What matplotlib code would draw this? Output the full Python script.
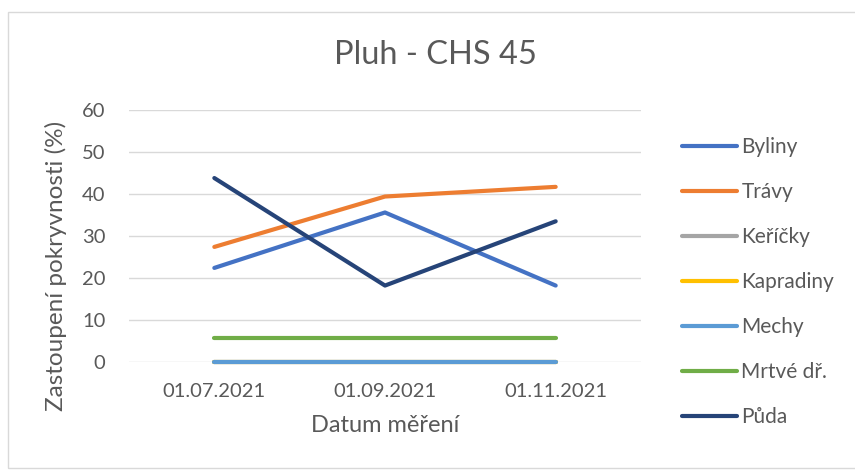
import matplotlib
matplotlib.use("Agg")
import matplotlib.pyplot as plt
from matplotlib.patches import Rectangle

dates = ["01.07.2021", "01.09.2021", "01.11.2021"]
byliny = [22.4, 35.6, 18.2]
travy = [27.4, 39.4, 41.7]
kericky = [0, 0, 0]
kapradiny = [0, 0, 0]
mechy = [0, 0, 0]
mrtve = [5.7, 5.7, 5.7]
puda = [43.8, 18.2, 33.5]

series = [
    ("Byliny", byliny, "#4472C4"),
    ("Trávy", travy, "#ED7D31"),
    ("Keříčky", kericky, "#A5A5A5"),
    ("Kapradiny", kapradiny, "#FFC000"),
    ("Mechy", mechy, "#5B9BD5"),
    ("Mrtvé dř.", mrtve, "#70AD47"),
    ("Půda", puda, "#264478"),
]

TXT = "#595959"
plt.rcParams['font.family'] = ['Lato', 'DejaVu Sans']
fig = plt.figure(figsize=(8.55, 4.75), dpi=100)
fig.patches.append(Rectangle((8/855, 1-468/475), 1.0, (468-12)/475, transform=fig.transFigure,
                             fill=False, edgecolor="#D9D9D9", linewidth=1))
ax = fig.add_axes([129/855, 1-362/475, 512/855, 252/475])

x = list(range(len(dates)))
handles = []
for name, vals, col in series:
    h, = ax.plot(x, vals, color=col, lw=3, solid_capstyle="round", label=name, clip_on=False)
    handles.append(h)

ax.set_xlim(-0.5, 2.5)
ax.set_ylim(0, 60)
ax.set_yticks(range(0, 61, 10))
ax.set_xticks(x)
ax.set_xticklabels(dates)
ax.grid(axis="y", color="#D9D9D9", lw=1)
ax.set_axisbelow(True)
for s in ax.spines.values():
    s.set_visible(False)
ax.tick_params(length=0, labelsize=14.5, colors=TXT)
ax.tick_params(axis="x", pad=15)
ax.tick_params(axis="y", pad=17)
fig.text(56/855, 1-266/475, "Zastoupení pokryvnosti (%)", fontsize=17.5, color=TXT,
         rotation=90, ha="center", va="center")
fig.text(385/855, 1-426/475, "Datum měření", fontsize=17, color=TXT, ha="center", va="center")
fig.text(435/855, 1-55/475, "Pluh - CHS 45", fontsize=23.5, color=TXT, ha="center", va="center")

leg = fig.legend(handles=handles, loc="center left", bbox_to_anchor=(682/855, 1-282/475),
                 frameon=False, fontsize=15, labelspacing=1.2, handlelength=2.65,
                 handletextpad=0.2, borderpad=0, borderaxespad=0, labelcolor=TXT)

fig.savefig("out.png", dpi=100)
